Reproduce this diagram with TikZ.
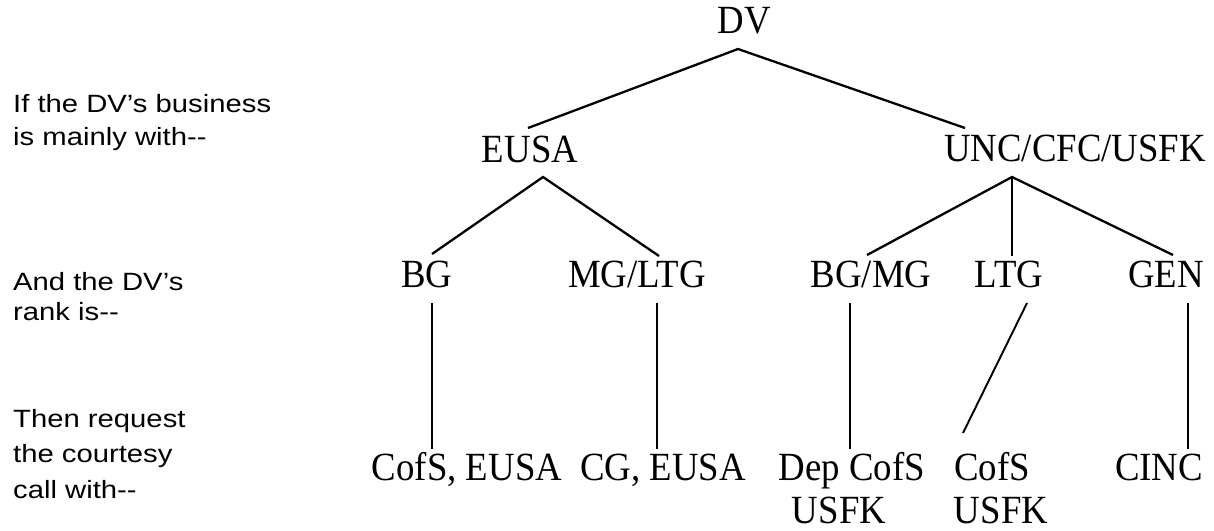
\documentclass[tikz,border=0pt]{standalone}
\usepackage{fontspec}
\usepackage{graphicx}
\newfontfamily\trserif{Liberation Serif}
\newfontfamily\trsans{Liberation Sans}
\newcommand{\tsx}[1]{\scalebox{0.92}[1]{#1}}
\newcommand{\ssx}[1]{\scalebox{1.17}[1]{#1}}
\tikzset{
  tx/.style={font=\trserif\fontsize{40}{44}\selectfont, inner sep=0pt, anchor=base},
  lab/.style={font=\trsans\fontsize{25}{30}\selectfont, inner sep=0pt, anchor=base west},
  edge/.style={line width=2.3pt},
  vedge/.style={line width=1.9pt}
}
\begin{document}
\begin{tikzpicture}[x=1pt,y=-1pt]
\useasboundingbox (0,0) rectangle (1214,530);
% side labels
\node[lab] (l1a) at (13,112) {\ssx{If the DV’s business}};
\node[lab] (l1b) at (13,145) {\ssx{is mainly with--}};
\node[lab] (l2a) at (13,290) {\ssx{And the DV’s}};
\node[lab] (l2b) at (13,320) {\ssx{rank is--}};
\node[lab] (l3a) at (13,427) {\ssx{Then request}};
\node[lab] (l3b) at (13,462) {\ssx{the courtesy}};
\node[lab] (l3c) at (13,498) {\ssx{call with--}};
% tree texts
\node[tx] (dv) at (744,33) {\tsx{DV}};
\node[tx] (eusa) at (530,162) {\tsx{EUSA}};
\node[tx] (unc) at (1075,161) {\tsx{UNC/CFC/USFK}};
\node[tx] (bg) at (427,287) {\tsx{BG}};
\node[tx] (mgltg) at (637,287) {\tsx{MG/LTG}};
\node[tx] (bgmg) at (871,287) {\tsx{BG/MG}};
\node[tx] (ltg) at (1009,287) {\tsx{LTG}};
\node[tx] (gen) at (1166,287) {\tsx{GEN}};
\node[tx] (c1) at (467,480) {\tsx{CofS, EUSA}};
\node[tx] (c2) at (663,480) {\tsx{CG, EUSA}};
\node[tx] (c3) at (852,480) {\tsx{Dep CofS}};
\node[tx] (c3b) at (839,523) {\tsx{USFK}};
\node[tx] (c4) at (992,480) {\tsx{CofS}};
\node[tx] (c4b) at (1001,523) {\tsx{USFK}};
\node[tx] (c5) at (1159,480) {\tsx{CINC}};
% connector end points
\coordinate (dvj) at (738,49);
\coordinate (eusaT) at (528,128);
\coordinate (uncT) at (965,128);
\coordinate (eusaj) at (543,177);
\coordinate (bgT) at (432,254);
\coordinate (mgltgT) at (659,256);
\coordinate (uncj) at (1012,177);
\coordinate (bgmgT) at (867,255);
\coordinate (ltgT) at (1012,256);
\coordinate (genT) at (1173,255);
\coordinate (bgB) at (432,303);
\coordinate (c1T) at (432,449);
\coordinate (mgltgB) at (657,303);
\coordinate (c2T) at (657,449);
\coordinate (bgmgB) at (850,303);
\coordinate (c3T) at (850,449);
\coordinate (ltgB) at (1027,303);
\coordinate (c4T) at (963,433);
\coordinate (genB) at (1188,303);
\coordinate (c5T) at (1188,449);
% connectors
\draw[edge,line join=miter] (eusaT) -- (dvj) -- (uncT);
\draw[edge,line join=miter] (bgT) -- (eusaj) -- (mgltgT);
\draw[edge,line join=miter] (bgmgT) -- (uncj) -- (genT);
\draw[edge] (uncj) -- (ltgT);
\draw[vedge] (bgB) -- (c1T);
\draw[vedge] (mgltgB) -- (c2T);
\draw[vedge] (bgmgB) -- (c3T);
\draw[vedge] (ltgB) -- (c4T);
\draw[vedge] (genB) -- (c5T);
\end{tikzpicture}
\end{document}
